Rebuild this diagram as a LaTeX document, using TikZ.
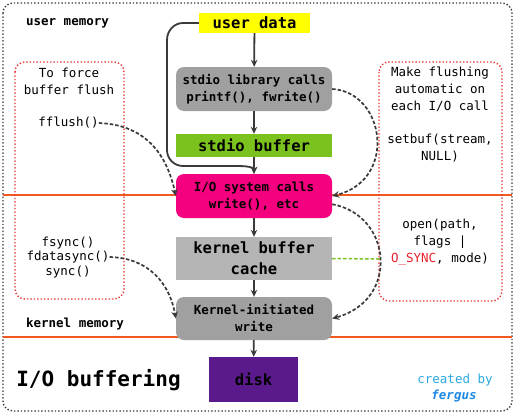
\documentclass[tikz,border=0pt]{standalone}
\usepackage{fontspec}
\setmainfont{DejaVu Sans Mono}[ItalicFont={DejaVu Sans Mono Oblique},BoldFont={DejaVu Sans Mono Bold},BoldItalicFont={DejaVu Sans Mono Bold Oblique}]
\usetikzlibrary{arrows.meta,calc}
\definecolor{cyel}{HTML}{FFFF00}
\definecolor{cgrayA}{HTML}{A0A0A0}
\definecolor{cgrayB}{HTML}{B5B5B5}
\definecolor{cgreen}{HTML}{7CC21E}
\definecolor{cmag}{HTML}{F5007F}
\definecolor{cpur}{HTML}{5A1A8C}
\definecolor{corange}{HTML}{F05A22}
\definecolor{cred}{HTML}{E53935}
\definecolor{cline}{HTML}{3A3A3A}
\definecolor{cblue}{HTML}{29A8E0}
\definecolor{cblueB}{HTML}{1E88E5}
\definecolor{cosync}{HTML}{E8202A}
\begin{document}
\begin{tikzpicture}[x=1pt,y=-1pt,
  fsmall/.style={font=\fontsize{12.5}{17}\selectfont},
  fbig/.style={font=\fontsize{15.5}{21}\selectfont\bfseries},
  box/.style={inner sep=0pt, align=center, minimum width=156pt, minimum height=44pt},
  smallbold/.style={fsmall, font=\fontsize{12.5}{17}\selectfont\bfseries},
  lbl/.style={inner sep=0pt, align=center, fsmall},
  flow/.style={draw=cline, line width=1.8pt, -{Stealth[length=7pt,width=6.5pt]}},
  dflow/.style={draw=cline, line width=1.7pt, dash pattern=on 3.5pt off 2pt, -{Stealth[length=7pt,width=6.5pt]}},
  redbox/.style={draw=cred, line width=1.4pt, dotted, rounded corners=10pt},
  orangeline/.style={draw=corange, line width=2pt}
]
\useasboundingbox (0,0) rectangle (516,415);
% outer frame
\draw[cline, line width=1.4pt, dotted, rounded corners=10pt] (3,3) rectangle (512,411);
% orange lines
\draw[orangeline] (3,195) -- (512,195);
\draw[orangeline] (3,337) -- (512,337);
% red dotted boxes
\draw[redbox] (15,62) rectangle (124,299);
\draw[redbox] (379,62) rectangle (502,301);

% central nodes
\node[box, fill=cyel, fbig, minimum width=111pt, minimum height=20pt] (ud) at (254.5,23) {user data};
\node[box, fill=cgrayA, rounded corners=8pt, smallbold] (lib) at (254,89) {stdio library calls\\printf(), fwrite()};
\node[box, fill=cgreen, fbig, minimum height=23pt] (buf) at (254,145.5) {stdio buffer};
\node[box, fill=cmag, rounded corners=8pt, smallbold] (io) at (254,196) {I/O system calls\\write(), etc};
\node[box, fill=cgrayB, fbig, minimum height=43pt] (kbc) at (254,258.5) {kernel buffer\\cache};
\node[box, fill=cgrayA, rounded corners=8pt, smallbold, minimum height=43pt] (kw) at (254,318.5) {Kernel-initiated\\write};
\node[box, fill=cpur, fbig, minimum width=89pt, minimum height=45pt] (disk) at (253.5,379.5) {disk};

% labels
\node[lbl, font=\fontsize{12.5}{17}\selectfont\bfseries] (um) at (67.5,23) {user memory};
\node[lbl, font=\fontsize{12.5}{17}\selectfont\bfseries] (km) at (75,324) {kernel memory};
\node[lbl, font=\fontsize{21}{26}\selectfont\bfseries] (title) at (98.5,380) {I/O buffering};
\node[lbl, text=cblue] (cb) at (455,380) {created by};
\node[lbl, text=cblueB, font=\fontsize{12.5}{17}\selectfont\bfseries\itshape] (fg) at (454,396) {fergus};

% left box texts
\node[lbl] (force) at (69,81) {To force\\buffer flush};
\node[lbl] (ff) at (68.5,123) {fflush()};
\node[lbl] (fs) at (68,243) {fsync()};
\node[lbl] (fd) at (68,257) {fdatasync()};
\node[lbl] (sy) at (68,272) {sync()};

% right box texts
\node[lbl] (mk) at (440,89) {Make flushing\\automatic on\\each I/O call};
\node[lbl] (sb) at (440,148.5) {setbuf(stream,\\NULL)};
\node[lbl] (op) at (440,242) {open(path,\\flags |\\\textcolor{cosync}{O\_SYNC}, mode)};
\coordinate (gend) at (381,259);

% main flow
\draw[flow] (ud) -- (lib);
\draw[flow] (lib) -- (buf);
\draw[flow] (buf) -- (io);
\draw[flow] (io) -- (kbc);
\draw[flow] (kbc) -- (kw);
\draw[flow] (kw) -- (disk);
% bypass
\draw[flow] (ud.west) -- (183,23) to[out=180,in=90] (167,40) -- (167,150) to[out=-90,in=180] (183,166) -- (238,166) to[out=0,in=90] (io.north);

% dashed connectors
\draw[dflow] (ff.east) .. controls (150,125) and (168,160) .. (io.west);
\draw[dflow] (lib.east) .. controls (385,92) and (398,180) .. (io.east);
\draw[dflow] (io.-6) .. controls (392,215) and (400,300) .. (kw.east);
\draw[dflow] (fd.east) .. controls (150,258) and (170,285) .. (kw.west);
\draw[draw=cgreen, line width=1.5pt, dash pattern=on 3.5pt off 2pt] (kbc.east) -- (gend);
\end{tikzpicture}
\end{document}
